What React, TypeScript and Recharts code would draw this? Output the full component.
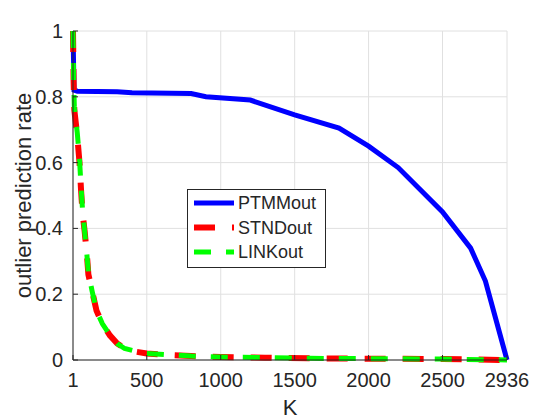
import { LineChart, Line, XAxis, YAxis, CartesianGrid, Legend } from "recharts";

// K values and rates
const ptmmK = [1, 8, 30, 300, 400, 800, 900, 1200, 1500, 1800, 2000, 2200, 2500, 2690, 2790, 2936];
const ptmmRate = [1, 0.82, 0.817, 0.815, 0.812, 0.81, 0.8, 0.79, 0.745, 0.705, 0.65, 0.585, 0.45, 0.34, 0.24, 0];

const stndK = [1, 5, 10, 30, 45, 55, 65, 80, 95, 105, 130, 160, 200, 250, 300, 350, 430, 500, 650, 800, 1000, 1300, 1600, 2000, 2500, 2936];
const stndRate = [1, 0.85, 0.76, 0.68, 0.6, 0.52, 0.45, 0.39, 0.32, 0.26, 0.21, 0.15, 0.11, 0.075, 0.05, 0.035, 0.025, 0.02, 0.015, 0.012, 0.009, 0.007, 0.005, 0.004, 0.003, 0];

const linkK = [1, 5, 10, 30, 45, 55, 65, 80, 95, 105, 130, 160, 200, 250, 300, 350, 430, 500, 650, 800, 1000, 1300, 1600, 2000, 2500, 2936];
const linkRate = [1, 0.86, 0.77, 0.69, 0.61, 0.53, 0.46, 0.39, 0.32, 0.265, 0.21, 0.15, 0.11, 0.076, 0.05, 0.035, 0.026, 0.02, 0.016, 0.012, 0.009, 0.007, 0.005, 0.004, 0.003, 0];

const kTicks = [1, 500, 1000, 1500, 2000, 2500, 2936];
const rateTicks = [0, 0.2, 0.4, 0.6, 0.8, 1];

const series = [
  { name: "PTMMout", color: "#0000ff", width: 5, dash: undefined as string | undefined },
  { name: "STNDout", color: "#ff0000", width: 6, dash: "21 17" },
  { name: "LINKout", color: "#00ff00", width: 5, dash: "17 15" },
];

const zip = (ks: number[], vs: number[]) => ks.map((k, i) => ({ k, rate: vs[i] }));

const ptmmData = zip(ptmmK, ptmmRate);
const stndData = zip(stndK, stndRate);
const linkData = zip(linkK, linkRate);

const textColor = "#262626";
const font = "'Liberation Sans', Arial, Helvetica, sans-serif";

const XTick = (props: any) => {
  const { x, y, payload } = props;
  return (
    <g>
      <line x1={x} y1={y} x2={x} y2={y - 5} stroke={textColor} />
      <text x={x} y={y + 27} textAnchor="middle" fill={textColor} fontSize={20} fontFamily={font}>
        {payload.value}
      </text>
    </g>
  );
};

const YTick = (props: any) => {
  const { x, y, payload } = props;
  return (
    <g>
      <line x1={x} y1={y} x2={x + 5} y2={y} stroke={textColor} />
      <text x={x - 10} y={y + 7} textAnchor="end" fill={textColor} fontSize={20} fontFamily={font}>
        {payload.value}
      </text>
    </g>
  );
};

const LegendBox = () => (
  <div style={{ width: 137, height: 77, border: `1px solid ${textColor}`, background: "#fff" }}>
    <svg width={137} height={77}>
      {series.map((s, i) => {
        const cy = 13 + i * 24.5;
        return (
          <g key={s.name}>
            <line x1={6} y1={cy} x2={46} y2={cy} stroke={s.color} strokeWidth={s.width} strokeDasharray={s.dash} />
            <text x={50} y={cy + 6} fill={textColor} fontSize={18} fontFamily={font}>
              {s.name}
            </text>
          </g>
        );
      })}
    </svg>
  </div>
);

export default function App() {
  return (
    <div style={{ position: "absolute", left: 0, top: 0, width: 560, height: 420, background: "#fff" }}>
      <LineChart width={560} height={420} margin={{ top: 31, right: 53, bottom: 30, left: 23 }}>
        <CartesianGrid stroke="#e0e0e0" strokeWidth={1} />
        <XAxis
          type="number"
          dataKey="k"
          domain={[1, 2936]}
          ticks={kTicks}
          allowDuplicatedCategory={false}
          height={30}
          tickSize={0}
          tickMargin={0}
          tickLine={false}
          stroke={textColor}
          tick={<XTick />}
          label={{ value: "K", position: "insideBottom", offset: -25, fill: textColor, fontSize: 22, fontFamily: font }}
        />
        <YAxis
          type="number"
          dataKey="rate"
          domain={[0, 1]}
          ticks={rateTicks}
          width={50}
          tickSize={0}
          tickMargin={0}
          tickLine={false}
          stroke={textColor}
          tick={<YTick />}
          label={{
            value: "outlier prediction rate",
            angle: -90,
            position: "center",
            dx: -25,
            fill: textColor,
            fontSize: 22,
            fontFamily: font,
          }}
        />
        <Legend
          layout="vertical"
          align="center"
          verticalAlign="middle"
          wrapperStyle={{ position: "absolute", left: 187, top: 189, width: 139, height: 79 }}
          content={<LegendBox />}
        />
        <Line
          data={ptmmData}
          dataKey="rate"
          name={series[0].name}
          type="linear"
          stroke={series[0].color}
          strokeWidth={series[0].width}
          dot={false}
          activeDot={false}
          isAnimationActive={false}
        />
        <Line
          data={stndData}
          dataKey="rate"
          name={series[1].name}
          type="linear"
          stroke={series[1].color}
          strokeWidth={series[1].width}
          strokeDasharray={series[1].dash}
          dot={false}
          activeDot={false}
          isAnimationActive={false}
        />
        <Line
          data={linkData}
          dataKey="rate"
          name={series[2].name}
          type="linear"
          stroke={series[2].color}
          strokeWidth={series[2].width}
          strokeDasharray={series[2].dash}
          dot={false}
          activeDot={false}
          isAnimationActive={false}
        />
      </LineChart>
    </div>
  );
}
